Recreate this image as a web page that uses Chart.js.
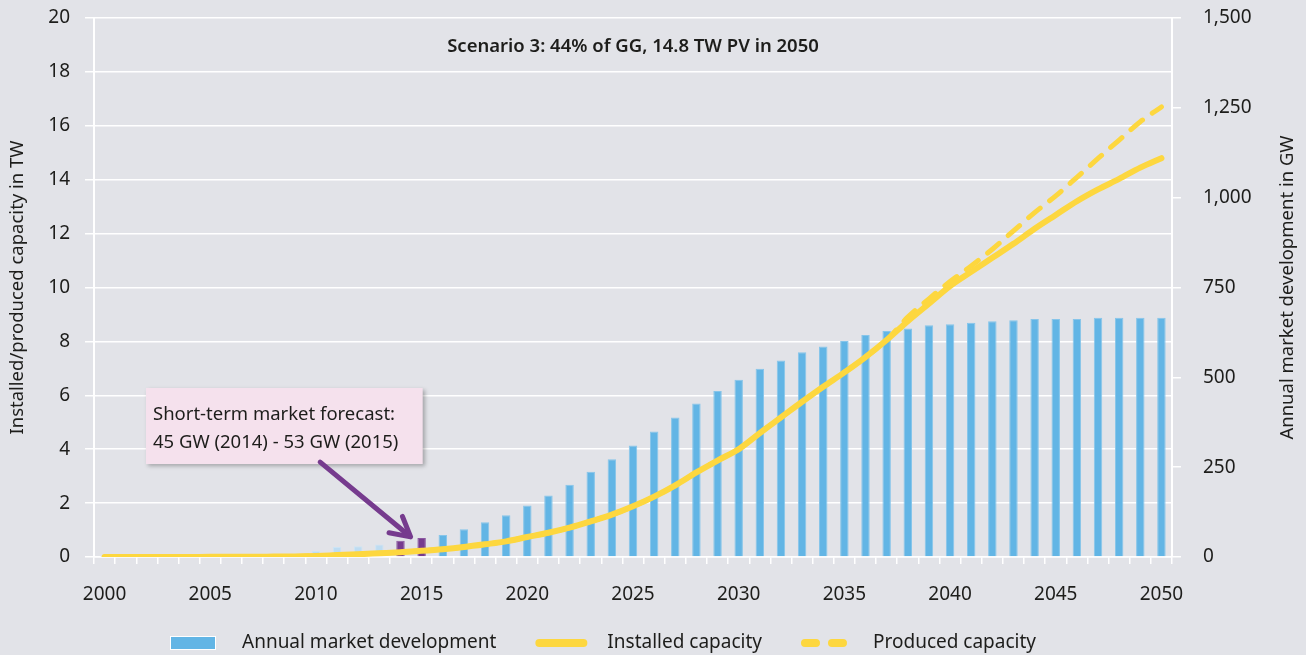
<!DOCTYPE html>
<html>
<head>
<meta charset="utf-8">
<title>PV scenario 3</title>
<script src="https://cdn.jsdelivr.net/npm/chart.js@4.4.1/dist/chart.umd.min.js"></script>
<style>
  html, body { margin: 0; padding: 0; background: #e2e3e8; }
  #wrap { width: 1306px; height: 655px; }
</style>
</head>
<body>
<div id="wrap"><canvas id="pvChart" width="1306" height="655"></canvas></div>
<script>
// --- Data ---
const years = [
  '2000', '2001', '2002', '2003', '2004', '2005', '2006', '2007', '2008', '2009',
  '2010', '2011', '2012', '2013', '2014', '2015', '2016', '2017', '2018', '2019',
  '2020', '2021', '2022', '2023', '2024', '2025', '2026', '2027', '2028', '2029',
  '2030', '2031', '2032', '2033', '2034', '2035', '2036', '2037', '2038', '2039',
  '2040', '2041', '2042', '2043', '2044', '2045', '2046', '2047', '2048', '2049',
  '2050'
];

// annual market, GW
const annualMarketGW = [
  0.3, 0.3, 0.5, 0.6, 1.1, 1.4, 1.6, 2.5, 6.7, 8,
  17, 28, 30, 35, 45, 53, 61, 77, 97, 116,
  143, 171, 201, 237, 272, 310, 349, 388, 427, 462,
  493, 524, 547, 570, 586, 601, 618, 629, 636, 645,
  648, 652, 656, 659, 662, 662, 662, 666, 666, 666,
  666
];

// installed capacity, TW
const installedTW = [
  0.001, 0.002, 0.002, 0.003, 0.004, 0.005, 0.007, 0.009, 0.016, 0.023,
  0.04, 0.07, 0.1, 0.14, 0.18, 0.23, 0.29, 0.37, 0.47, 0.58,
  0.74, 0.9, 1.09, 1.32, 1.57, 1.88, 2.24, 2.66, 3.14, 3.58,
  4.0, 4.6, 5.18, 5.76, 6.32, 6.85, 7.42, 8.05, 8.75, 9.4,
  10.05, 10.58, 11.1, 11.62, 12.18, 12.69, 13.2, 13.64, 14.03, 14.45,
  14.8
];

// produced capacity, TW
const producedTW = [
  0.001, 0.002, 0.002, 0.003, 0.004, 0.005, 0.007, 0.009, 0.016, 0.023,
  0.04, 0.07, 0.1, 0.14, 0.18, 0.23, 0.29, 0.37, 0.47, 0.58,
  0.74, 0.9, 1.09, 1.32, 1.57, 1.88, 2.24, 2.66, 3.14, 3.58,
  4.0, 4.6, 5.18, 5.76, 6.32, 6.85, 7.42, 8.05, 8.9, 9.58,
  10.22, 10.8, 11.42, 12.1, 12.78, 13.4, 14.09, 14.79, 15.47, 16.15,
  16.7
];

const twTicks = [0, 2, 4, 6, 8, 10, 12, 14, 16, 18, 20];
const gwTicks = [0, 250, 500, 750, 1000, 1250, 1500];

const forecastYears = ['2014', '2015'];
const firstScenarioYear = 2016;

const chartTitle = 'Scenario 3: 44% of GG, 14.8 TW PV in 2050';
const leftTitle = 'Installed/produced capacity in TW';
const rightTitle = 'Annual market development in GW';
const calloutLines = ['Short-term market forecast:', '45 GW (2014) - 53 GW (2015)'];
const legendLabels = ['Annual market development', 'Installed capacity', 'Produced capacity'];

// --- Styling ---
const FONT = '"Noto Sans", "Open Sans", sans-serif';
const TEXT = '#1d1d1b';
const BLUE = '#62b5e5';
const PALE = '#bddcf2';
const PURPLE = '#763b8e';
const YELLOW = '#fdd73f';
const GRID = '#ffffff';

const barFill = years.map(y => forecastYears.includes(y) ? PURPLE : (Number(y) >= firstScenarioYear ? BLUE : PALE));
const barEdge = years.map(y => forecastYears.includes(y) ? '#8b58a1' : (Number(y) >= firstScenarioYear ? '#86c5ea' : '#cde4f5'));

// callout placement in data units (category index / TW / GW)
const callout = { x0: 1.96, x1: 15.05, top: 6.27, bottom: 3.45 };
const arrow = { fromX: 10.2, fromTW: 3.52, toX: 14.48, toGW: 56 };

// y axes: fixed width, and no extra room reserved for the end labels
const fitVertical = width => scale => {
  scale.width = width;
  scale.paddingTop = 0;
  scale.paddingBottom = 0;
};

const decorations = {
  id: 'decorations',
  afterDatasetsDraw(chart) {
    const { ctx, chartArea: area, scales } = chart;
    const x = scales.x, yTW = scales.yTW, yGW = scales.yGW;
    ctx.save();

    // heading inside the plot
    ctx.fillStyle = TEXT;
    ctx.font = '600 18.5px ' + FONT;
    ctx.textAlign = 'center';
    ctx.textBaseline = 'middle';
    ctx.fillText(chartTitle, (area.left + area.right) / 2, area.top + 29);

    // axis titles, both reading bottom-to-top
    const midY = (area.top + area.bottom) / 2;
    ctx.font = '18.5px ' + FONT;
    [[18, leftTitle], [chart.width - 18, rightTitle]].forEach(([tx, label]) => {
      ctx.save();
      ctx.translate(tx, midY);
      ctx.rotate(-Math.PI / 2);
      ctx.fillText(label, 0, 0);
      ctx.restore();
    });

    // callout box
    const bx = x.getPixelForValue(callout.x0);
    const bw = x.getPixelForValue(callout.x1) - bx;
    const by = yTW.getPixelForValue(callout.top);
    const bh = yTW.getPixelForValue(callout.bottom) - by;
    ctx.save();
    ctx.shadowColor = 'rgba(0,0,0,0.28)';
    ctx.shadowBlur = 4;
    ctx.shadowOffsetX = 2;
    ctx.shadowOffsetY = 2;
    ctx.fillStyle = '#f5e1ed';
    ctx.fillRect(bx, by, bw, bh);
    ctx.restore();
    ctx.fillStyle = TEXT;
    ctx.font = '18.5px ' + FONT;
    ctx.textAlign = 'left';
    calloutLines.forEach((line, i) => ctx.fillText(line, bx + 7, by + 27 + i * 28));

    // arrow pointing at the forecast bars
    const ax0 = x.getPixelForValue(arrow.fromX), ay0 = yTW.getPixelForValue(arrow.fromTW);
    const ax1 = x.getPixelForValue(arrow.toX), ay1 = yGW.getPixelForValue(arrow.toGW);
    const ang = Math.atan2(ay1 - ay0, ax1 - ax0);
    ctx.strokeStyle = PURPLE;
    ctx.lineWidth = 5;
    ctx.lineCap = 'round';
    ctx.lineJoin = 'round';
    ctx.beginPath();
    ctx.moveTo(ax0, ay0);
    ctx.lineTo(ax1 - 3 * Math.cos(ang), ay1 - 3 * Math.sin(ang));
    ctx.stroke();
    ctx.beginPath();
    ctx.moveTo(ax1 - 22 * Math.cos(ang - 0.5), ay1 - 22 * Math.sin(ang - 0.5));
    ctx.lineTo(ax1, ay1);
    ctx.lineTo(ax1 - 22 * Math.cos(ang + 0.5), ay1 - 22 * Math.sin(ang + 0.5));
    ctx.stroke();

    ctx.restore();
  },
  afterDraw(chart) {
    // legend row under the x axis
    const { ctx } = chart;
    const cy = 643;
    ctx.save();
    ctx.font = '19px ' + FONT;
    ctx.fillStyle = TEXT;
    ctx.textBaseline = 'middle';
    ctx.textAlign = 'left';
    let lx = 170;
    legendLabels.forEach((label, i) => {
      if (i === 0) {
        ctx.fillStyle = BLUE;
        ctx.fillRect(lx, cy - 7, 46, 14);
        ctx.strokeStyle = '#ffffff';
        ctx.lineWidth = 1;
        ctx.strokeRect(lx + 0.5, cy - 6.5, 45, 13);
      } else {
        ctx.strokeStyle = YELLOW;
        ctx.lineWidth = 8;
        ctx.lineCap = 'round';
        ctx.setLineDash(i === 2 ? [11, 16] : []);
        ctx.beginPath();
        ctx.moveTo(lx + 4, cy);
        ctx.lineTo(lx + 48, cy);
        ctx.stroke();
        ctx.setLineDash([]);
      }
      ctx.fillStyle = TEXT;
      ctx.fillText(label, lx + 72, cy);
      lx += 72 + ctx.measureText(label).width + 39;
    });
    ctx.restore();
  }
};

const ctx = document.getElementById('pvChart').getContext('2d');
new Chart(ctx, {
  type: 'bar',
  data: {
    labels: years,
    datasets: [
      {
        type: 'line',
        label: legendLabels[1],
        data: installedTW,
        yAxisID: 'yTW',
        borderColor: YELLOW,
        borderWidth: 6,
        borderCapStyle: 'round',
        pointRadius: 0,
        cubicInterpolationMode: 'monotone',
        order: 0
      },
      {
        type: 'line',
        label: legendLabels[2],
        data: producedTW,
        yAxisID: 'yTW',
        borderColor: YELLOW,
        borderWidth: 5,
        borderDash: [15, 12],
        borderCapStyle: 'round',
        pointRadius: 0,
        cubicInterpolationMode: 'monotone',
        order: 1
      },
      {
        label: legendLabels[0],
        data: annualMarketGW,
        yAxisID: 'yGW',
        backgroundColor: barFill,
        borderColor: barEdge,
        borderWidth: 1,
        categoryPercentage: 1,
        barPercentage: 0.4,
        order: 2
      }
    ]
  },
  options: {
    responsive: false,
    devicePixelRatio: 1,
    animation: false,
    layout: { padding: { top: 18, left: 0, right: 0, bottom: 0 } },
    plugins: {
      legend: { display: false },
      tooltip: { enabled: false }
    },
    scales: {
      x: {
        grid: { offset: true, drawOnChartArea: false, drawTicks: true, tickLength: 7, color: GRID, lineWidth: 1.5 },
        border: { display: true, color: GRID, width: 1.5 },
        ticks: {
          autoSkip: false,
          maxRotation: 0,
          padding: 19,
          color: TEXT,
          font: { family: FONT, size: 19 },
          callback: function (value) {
            const y = years[value];
            return Number(y) % 5 === 0 ? y : '';
          }
        },
        afterFit: s => { s.height = 98; }
      },
      yTW: {
        position: 'left',
        min: 0,
        max: 20,
        afterBuildTicks: s => { s.ticks = twTicks.map(v => ({ value: v })); },
        grid: { color: GRID, lineWidth: 1.5, tickLength: 9 },
        border: { display: true, color: GRID, width: 2 },
        ticks: { padding: 15, color: TEXT, font: { family: FONT, size: 19 } },
        afterFit: fitVertical(94)
      },
      yGW: {
        position: 'right',
        min: 0,
        max: 1500,
        afterBuildTicks: s => { s.ticks = gwTicks.map(v => ({ value: v })); },
        grid: { drawOnChartArea: false, color: GRID, lineWidth: 1.5, tickLength: 9 },
        border: { display: true, color: GRID, width: 2 },
        ticks: {
          padding: 22,
          color: TEXT,
          font: { family: FONT, size: 19 },
          callback: v => v.toLocaleString('en-US')
        },
        afterFit: fitVertical(134)
      }
    }
  },
  plugins: [decorations]
});
</script>
</body>
</html>
